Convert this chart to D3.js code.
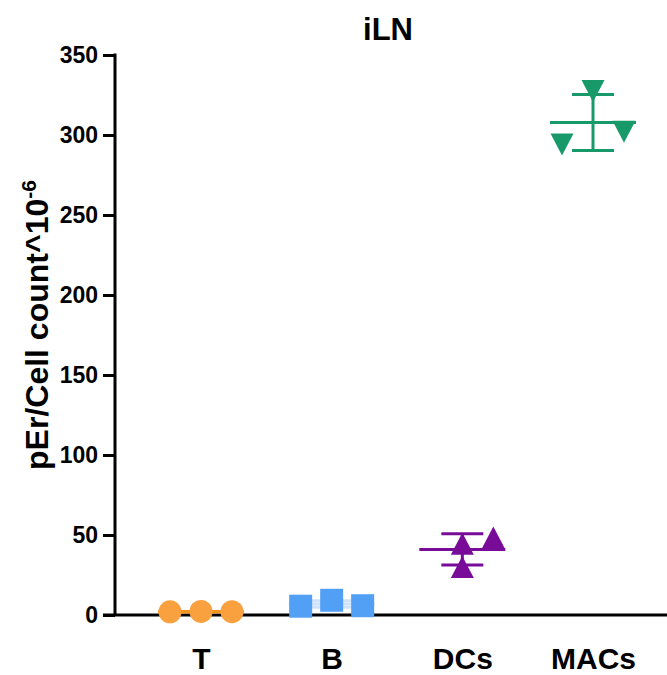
<!DOCTYPE html>
<html>
<head>
<meta charset="utf-8">
<script src="https://cdn.jsdelivr.net/npm/d3@7"></script>
<style>
  html, body { margin: 0; padding: 0; background: #fff; }
  svg { display: block; font-family: "Liberation Sans", Arial, sans-serif; font-weight: bold; }
</style>
</head>
<body>
<svg id="chart" width="667" height="675"></svg>
<script>
// Cell populations on the x axis
const categories = ["T", "B", "DCs", "MACs"];
// Replicate values per population (pEr / cell count x10^-6)
const valuesT = [2.0, 2.2, 2.1];
const valuesB = [5.5, 9.2, 5.8];
const valuesDCs = [30, 44.5, 48.5];
const valuesMACs = [294, 327.5, 302];
// Scatter slot of each replicate within its column (-1 left, 0 centre, 1 right)
const slotsT = [-1, 0, 1];
const slotsB = [-1, 0, 1];
const slotsDCs = [0, 0, 1];
const slotsMACs = [-1, 0, 1];
// Y axis ticks
const yTicks = [0, 50, 100, 150, 200, 250, 300, 350];

const groups = [
  { name: "T", values: valuesT, slots: slotsT, color: "#F9A13F", bar: "#F7921E", shape: "circle" },
  { name: "B", values: valuesB, slots: slotsB, color: "#52A0F6", bar: "#CFE3FC", shape: "square" },
  { name: "DCs", values: valuesDCs, slots: slotsDCs, color: "#780C98", bar: "#780C98", shape: "up" },
  { name: "MACs", values: valuesMACs, slots: slotsMACs, color: "#18996A", bar: "#18996A", shape: "down" }
];

const svg = d3.select("#chart");
const x = d3.scalePoint().domain(categories).range([201, 593]);
const y = d3.scaleLinear().domain([0, 350]).range([615, 55]);
const slotStep = 31;
const meanHalf = 43, capHalf = 21;

// Title
svg.append("text")
  .attr("x", 388).attr("y", 40)
  .attr("text-anchor", "middle")
  .style("font-size", "31px")
  .text("iLN");

// Y axis title
svg.append("text")
  .attr("transform", "translate(48,325) rotate(-90)")
  .attr("text-anchor", "middle")
  .style("font-size", "32px")
  .text("pEr/Cell count^10")
  .append("tspan")
  .attr("dy", "-0.55em")
  .style("font-size", "21px")
  .text("-6");

// Y axis
const yAxis = d3.axisLeft(y).tickValues(yTicks).tickSize(12).tickPadding(5).tickFormat(d3.format("d"));
const gy = svg.append("g").attr("transform", "translate(115,0)").call(yAxis);
gy.select(".domain").attr("d", `M0,${y(350) - 1.5}V${y(0)}`).attr("stroke", "#000").attr("stroke-width", 3);
gy.selectAll(".tick line").attr("stroke", "#000").attr("stroke-width", 3);
gy.selectAll(".tick text")
  .attr("fill", "#000")
  .style("font-size", "23px")
  .style("font-family", "'Liberation Sans', Arial, sans-serif")
  .style("font-weight", "bold");

// X axis
const xAxis = d3.axisBottom(x).tickSize(0).tickPadding(33);
const gx = svg.append("g").attr("transform", `translate(0,${y(0)})`).call(xAxis);
gx.select(".domain").attr("d", "M103,0H667").attr("stroke", "#000").attr("stroke-width", 3);
gx.selectAll(".tick text")
  .attr("fill", "#000")
  .style("font-size", "30px")
  .style("font-family", "'Liberation Sans', Arial, sans-serif")
  .style("font-weight", "bold");

// Mean and SD bars per column
groups.forEach(g => {
  const cx = x(g.name);
  const m = d3.mean(g.values);
  const sd = d3.deviation(g.values);
  const bars = svg.append("g").attr("stroke", g.bar).attr("stroke-width", 3).attr("fill", "none");
  bars.append("line").attr("x1", cx - meanHalf).attr("x2", cx + meanHalf).attr("y1", y(m)).attr("y2", y(m));
  bars.append("line").attr("x1", cx).attr("x2", cx).attr("y1", y(m + sd)).attr("y2", y(m - sd));
  bars.append("line").attr("x1", cx - capHalf).attr("x2", cx + capHalf).attr("y1", y(m + sd)).attr("y2", y(m + sd));
  bars.append("line").attr("x1", cx - capHalf).attr("x2", cx + capHalf).attr("y1", y(m - sd)).attr("y2", y(m - sd));
});

// Replicate markers
const tri = (w, h, up) => up
  ? `M0,${-h / 2}L${w / 2},${h / 2}L${-w / 2},${h / 2}Z`
  : `M${-w / 2},${-h / 2}L${w / 2},${-h / 2}L0,${h / 2}Z`;

groups.forEach(g => {
  const cx = x(g.name);
  const pts = svg.append("g").attr("fill", g.color);
  g.values.forEach((v, i) => {
    const px = cx + g.slots[i] * slotStep;
    const py = y(v);
    if (g.shape === "circle") {
      pts.append("circle").attr("cx", px).attr("cy", py).attr("r", 11.5);
    } else if (g.shape === "square") {
      pts.append("rect").attr("x", px - 11.5).attr("y", py - 11.5).attr("width", 23).attr("height", 23);
    } else {
      pts.append("path").attr("transform", `translate(${px},${py})`).attr("d", tri(23, 22, g.shape === "up"));
    }
  });
});
</script>
</body>
</html>
